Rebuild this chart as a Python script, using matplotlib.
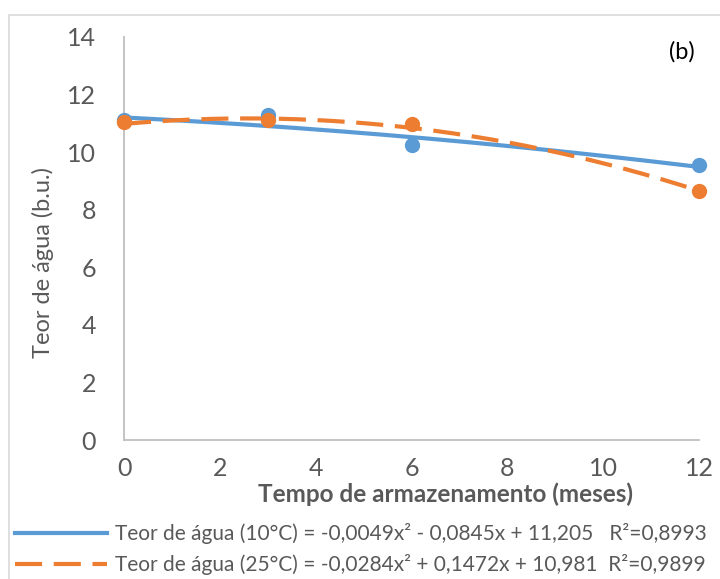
import numpy as np
import matplotlib
matplotlib.use("Agg")
import matplotlib.pyplot as plt
from matplotlib.lines import Line2D
from matplotlib.patches import Rectangle

plt.rcParams["font.family"] = ["Lato", "DejaVu Sans"]

# storage time (months) and measured moisture content (wet basis)
meses = [0, 3, 6, 12]
teor_10 = [11.13, 11.28, 10.24, 9.55]
teor_25 = [11.05, 11.11, 10.97, 8.65]

# quadratic trendline coefficients (a, b, c) and R²
coef_10 = (-0.0049, -0.0845, 11.205)
coef_25 = (-0.0284, 0.1472, 10.981)
r2_10 = 0.8993
r2_25 = 0.9899

labels = [
    "Teor de água (10°C) = -0,0049x² - 0,0845x + 11,205   R²=0,8993",
    "Teor de água (25°C) = -0,0284x² + 0,1472x + 10,981  R²=0,9899",
]

azul = "#5B9BD5"
laranja = "#ED7D31"
cinza = "#595959"

fig = plt.figure(figsize=(7.2, 5.79), dpi=100)
ax = fig.add_axes([124 / 720, 1 - 440 / 579, 575 / 720, 403 / 579])

# chart area frame
fig.patches.append(Rectangle((9 / 720, -0.1), 1.2, 1 - 15 / 579 + 0.1,
                             transform=fig.transFigure, fill=False,
                             edgecolor="#D9D9D9", linewidth=1.2))

xs = np.linspace(0, 12, 200)
ax.plot(xs, np.polyval(coef_10, xs), color=azul, lw=3, solid_capstyle="butt")
ax.plot(xs, np.polyval(coef_25, xs), color=laranja, lw=3,
        linestyle=(0, (6.5, 2.8)))
ax.plot(meses, teor_10, "o", color=azul, ms=10, clip_on=False, zorder=5)
ax.plot(meses, teor_25, "o", color=laranja, ms=10, clip_on=False, zorder=6)

ax.set_xlim(0, 12)
ax.set_ylim(0, 14)
ax.set_xticks(range(0, 13, 2))
ax.set_yticks(range(0, 15, 2))
for side in ("top", "right"):
    ax.spines[side].set_visible(False)
for side in ("left", "bottom"):
    ax.spines[side].set_color("#BFBFBF")
    ax.spines[side].set_linewidth(1.3)
ax.tick_params(length=0, labelsize=18, labelcolor=cinza)
ax.tick_params(axis="y", pad=20)
ax.tick_params(axis="x", pad=12)

fig.text(43 / 720, 1 - 262 / 579, "Teor de água (b.u.)", rotation=90,
         ha="center", va="center", fontsize=17, color=cinza)
fig.text(446 / 720, 1 - 494 / 579, "Tempo de armazenamento (meses)",
         ha="center", va="center", fontsize=17.5, fontweight="bold", color=cinza)
fig.text(682 / 720, 1 - 52 / 579, "(b)", ha="center", va="center",
         fontsize=17, color="black")

handles = [
    Line2D([], [], color=azul, lw=3),
    Line2D([], [], color=laranja, lw=3, linestyle=(0, (6.5, 2.8))),
]
fig.legend(handles, labels, loc="upper left",
           bbox_to_anchor=(15 / 720, 1 - 523 / 579), frameon=False,
           fontsize=15, labelcolor=cinza, handlelength=4.4, handletextpad=0.4,
           labelspacing=0.5, borderaxespad=0, borderpad=0)

fig.savefig("out.png", dpi=100)
